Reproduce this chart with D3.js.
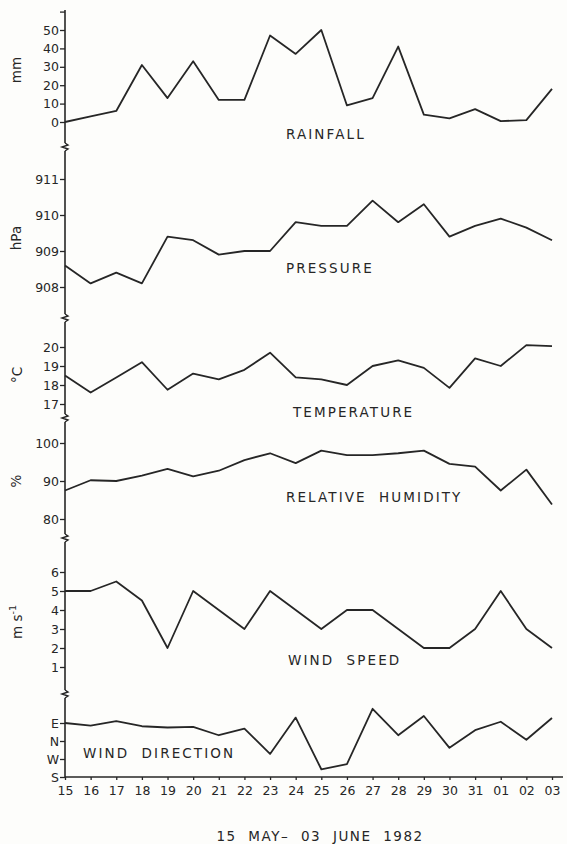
<!DOCTYPE html>
<html><head><meta charset="utf-8">
<script src="https://cdn.jsdelivr.net/npm/d3@7"></script>
<style>
html,body{margin:0;padding:0;background:#fdfdfb;}
svg{display:block;}
text{font-family:"DejaVu Sans",sans-serif;fill:#262626;}
</style></head><body>
<svg id="c" width="567" height="844"></svg>
<script>
// ---------- data ----------
const days = ["15","16","17","18","19","20","21","22","23","24","25","26","27","28","29","30","31","01","02","03"];
const rainfall = [0,3,6,31,13,33,12,12,47,37,50,9,13,41,4,2,7,0.5,1,18];
const pressure = [908.6,908.1,908.4,908.1,909.4,909.3,908.9,909.0,909.0,909.8,909.7,909.7,910.4,909.8,910.3,909.4,909.7,909.9,909.65,909.3];
const temperature = [18.5,17.6,18.4,19.2,17.75,18.6,18.3,18.8,19.7,18.4,18.3,18.0,19.0,19.3,18.9,17.85,19.4,19.0,20.1,20.05];
const humidity = [87.5,90.2,90,91.4,93.2,91.2,92.7,95.5,97.3,94.7,98,96.8,96.8,97.3,98,94.5,93.8,87.5,93,83.8];
const windSpeed = [5,5,5.5,4.5,2,5,4,3,5,4,3,4,4,3,2,2,3,5,3,2];
// wind direction on an ordinal-like scale: S=0, W=1, N=2, E=3
const windDir = [3.0,2.85,3.1,2.82,2.75,2.78,2.32,2.69,1.28,3.3,0.43,0.72,3.79,2.32,3.39,1.62,2.6,3.07,2.07,3.28];

const rainTicks = [0,10,20,30,40,50,60];
const pressureTicks = [908,909,910,911];
const temperatureTicks = [17,18,19,20];
const humidityTicks = [80,90,100];
const windSpeedTicks = [1,2,3,4,5,6];
const windDirTicks = [0,1,2,3];
const windDirLabels = ["S","W","N","E"];
const xTitle = "15 MAY\u2013 03 JUNE 1982";

// ---------- layout ----------
const svg = d3.select("#c");
const AX = 65;
const ink = "#262626";
const x = d3.scalePoint().domain(days).range([AX, 552]);

const panels = [
  {values: rainfall, ticks: rainTicks, fmt: d => d === 60 ? "" : d, dom: [0,50], rng: [122,30], seg: [10,143],
   label: "RAINFALL", lx: 286, ly: 139, unit: "mm", ux: 21, uy: 70},
  {values: pressure, ticks: pressureTicks, fmt: d => d, dom: [908,911], rng: [287,179], seg: [151,314],
   label: "PRESSURE", lx: 286, ly: 273, unit: "hPa", ux: 21, uy: 238},
  {values: temperature, ticks: temperatureTicks, fmt: d => d, dom: [17,20], rng: [404,347], seg: [322,414],
   label: "TEMPERATURE", lx: 293, ly: 417, unit: "\u00B0C", ux: 22, uy: 375},
  {values: humidity, ticks: humidityTicks, fmt: d => d, dom: [80,100], rng: [519,443], seg: [422,534],
   label: "RELATIVE HUMIDITY", lx: 286, ly: 502, unit: "%", ux: 21, uy: 481},
  {values: windSpeed, ticks: windSpeedTicks, fmt: d => d, dom: [1,6], rng: [667,572], seg: [542,690],
   label: "WIND SPEED", lx: 288, ly: 665, unit: "m s", sup: "-1", ux: 22, uy: 622},
  {values: windDir, ticks: windDirTicks, fmt: (d,i) => windDirLabels[d], dom: [0,3], rng: [777,723], seg: [698,777],
   label: "WIND DIRECTION", lx: 83, ly: 758}
];

panels.forEach((p, pi) => {
  const y = d3.scaleLinear().domain(p.dom).range(p.rng);
  svg.append("line").attr("x1", AX).attr("x2", AX).attr("y1", p.seg[0]).attr("y2", p.seg[1])
    .attr("stroke", ink).attr("stroke-width", 1.6);
  const g = svg.append("g").attr("transform", `translate(${AX},0)`)
    .call(d3.axisLeft(y).tickValues(p.ticks).tickSize(5).tickPadding(1).tickFormat(p.fmt));
  g.select(".domain").remove();
  g.selectAll(".tick line").attr("stroke", ink).attr("stroke-width", 1.3);
  g.selectAll(".tick text").attr("font-size", 12.5).attr("fill", ink)
    .style("font-family", '"DejaVu Sans",sans-serif');
  const line = d3.line().x((d, i) => x(days[i])).y(d => y(d));
  svg.append("path").datum(p.values).attr("d", line).attr("fill", "none")
    .attr("stroke", ink).attr("stroke-width", 1.8).attr("stroke-linejoin", "round");
  svg.append("text").attr("x", p.lx).attr("y", p.ly).text(p.label)
    .attr("font-size", 13.5).attr("letter-spacing", 2.1).attr("word-spacing", 6);
  if (p.unit) {
    const t = svg.append("text").attr("transform", `translate(${p.ux},${p.uy}) rotate(-90)`)
      .attr("text-anchor", "middle").attr("font-size", 13.5).text(p.unit);
    if (p.sup) t.append("tspan").attr("dy", -6).attr("font-size", 9.5).text(p.sup);
  }
  if (pi < panels.length - 1) {
    const y0 = p.seg[1], y1 = panels[pi + 1].seg[0];
    const h = y1 - y0;
    svg.append("path")
      .attr("d", `M${AX},${y0} L${AX+3},${y0+h*0.25} L${AX-3},${y0+h*0.5} L${AX+3},${y0+h*0.75} L${AX},${y1}`)
      .attr("fill", "none").attr("stroke", ink).attr("stroke-width", 1.4);
  }
});

// x axis
const XY = 777;
svg.append("line").attr("x1", AX).attr("x2", 563).attr("y1", XY).attr("y2", XY)
  .attr("stroke", ink).attr("stroke-width", 1.6);
const gx = svg.append("g").attr("transform", `translate(0,${XY})`)
  .call(d3.axisBottom(x).tickSize(3).tickSizeOuter(0).tickPadding(6));
gx.select(".domain").remove();
gx.selectAll(".tick line").attr("stroke", ink).attr("stroke-width", 1.3);
gx.selectAll(".tick text").attr("font-size", 12.5).attr("fill", ink)
  .style("font-family", '"DejaVu Sans",sans-serif');

svg.append("text").attr("x", 320).attr("y", 841).attr("text-anchor", "middle")
  .attr("font-size", 13.5).attr("letter-spacing", 1.5).attr("word-spacing", 6).text(xTitle);
</script>
</body></html>
